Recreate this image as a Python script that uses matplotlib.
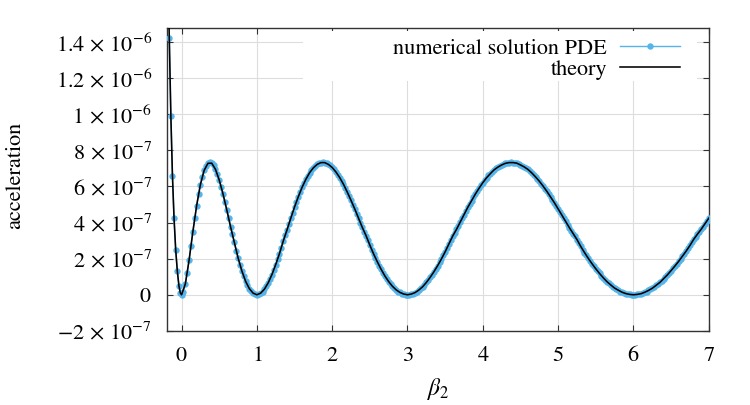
import numpy as np
import matplotlib
matplotlib.use("Agg")
import matplotlib.pyplot as plt
from matplotlib.patches import Rectangle

plt.rcParams["font.family"] = ["STIXGeneral", "Liberation Serif", "DejaVu Serif"]
plt.rcParams["mathtext.fontset"] = "stix"

# acceleration values are in units of 1e-7
# left branch (beta_2 < 0), read point by point
beta_neg = [-0.163, -0.142, -0.121, -0.100, -0.078, -0.056, -0.035, -0.016]
accel_neg = [14.2, 9.9, 6.6, 4.25, 2.5, 1.3, 0.5, 0.1]

# numerical solution, beta_2 = 0 ... 7 in steps of 0.025
num_step = 0.025
accel_num = [
    0, 0.17, 0.60, 1.20, 1.92, 2.71, 3.49, 4.23, 4.93, 5.56, 6.10, 6.55, 6.89, 7.14, 7.28, 7.33, 7.29, 7.16, 6.95, 6.68,
    6.36, 5.99, 5.59, 5.16, 4.71, 4.24, 3.78, 3.36, 2.92, 2.45, 2.05, 1.67, 1.33, 1.02, 0.75, 0.53, 0.34, 0.19, 0.09, 0.03,
    0, 0.03, 0.09, 0.18, 0.31, 0.47, 0.66, 0.89, 1.12, 1.39, 1.67, 1.97, 2.28, 2.61, 2.97, 3.30, 3.59, 3.91, 4.24, 4.55,
    4.86, 5.15, 5.43, 5.70, 5.95, 6.18, 6.39, 6.59, 6.76, 6.91, 7.03, 7.15, 7.22, 7.28, 7.32, 7.33, 7.32, 7.29, 7.22, 7.16,
    7.05, 6.94, 6.80, 6.66, 6.49, 6.31, 6.12, 5.91, 5.69, 5.47, 5.23, 4.99, 4.75, 4.49, 4.24, 3.98, 3.73, 3.50, 3.27, 3.02,
    2.75, 2.49, 2.26, 2.03, 1.82, 1.61, 1.41, 1.22, 1.04, 0.89, 0.73, 0.60, 0.47, 0.36, 0.27, 0.18, 0.13, 0.07, 0.04, 0.01,
    0, 0.01, 0.04, 0.07, 0.12, 0.18, 0.26, 0.35, 0.44, 0.56, 0.68, 0.82, 0.96, 1.10, 1.27, 1.44, 1.61, 1.80, 1.98, 2.18,
    2.38, 2.58, 2.81, 3.04, 3.25, 3.43, 3.62, 3.82, 4.03, 4.24, 4.44, 4.64, 4.84, 5.03, 5.21, 5.40, 5.57, 5.74, 5.90, 6.06,
    6.21, 6.35, 6.48, 6.61, 6.71, 6.82, 6.92, 7.00, 7.07, 7.15, 7.19, 7.24, 7.28, 7.31, 7.32, 7.33, 7.32, 7.31, 7.29, 7.24,
    7.19, 7.15, 7.08, 7.01, 6.94, 6.85, 6.75, 6.65, 6.53, 6.41, 6.29, 6.16, 6.02, 5.88, 5.73, 5.58, 5.42, 5.26, 5.10, 4.93,
    4.76, 4.59, 4.41, 4.24, 4.06, 3.89, 3.71, 3.55, 3.39, 3.23, 3.06, 2.87, 2.68, 2.50, 2.34, 2.18, 2.02, 1.87, 1.72, 1.58,
    1.44, 1.31, 1.18, 1.05, 0.94, 0.83, 0.72, 0.63, 0.54, 0.45, 0.37, 0.31, 0.25, 0.18, 0.14, 0.10, 0.065, 0.04, 0.02, 0.005,
    0, 0.005, 0.02, 0.04, 0.06, 0.10, 0.14, 0.18, 0.24, 0.30, 0.36, 0.43, 0.52, 0.60, 0.68, 0.78, 0.89, 0.99, 1.10, 1.22,
    1.34, 1.46, 1.59, 1.72, 1.85, 1.99, 2.13, 2.27, 2.42, 2.57, 2.73, 2.90, 3.07, 3.22, 3.36, 3.49, 3.63, 3.78, 3.93, 4.08, 4.24,
]

# theory curve
beta_th_neg = [-0.19, -0.163, -0.142, -0.121, -0.100, -0.078, -0.056, -0.035, -0.016]
accel_th_neg = [20.5, 14.2, 9.9, 6.6, 4.25, 2.5, 1.3, 0.5, 0.1]
th_step = 0.05
accel_theory = [
    0, 0.60, 1.92, 3.49, 4.93, 6.10, 6.89, 7.28, 7.29, 6.95, 6.36, 5.59, 4.71, 3.78, 2.92, 2.05, 1.33, 0.75, 0.34, 0.09,
    0, 0.09, 0.31, 0.66, 1.12, 1.67, 2.28, 2.97, 3.59, 4.24, 4.86, 5.43, 5.95, 6.39, 6.76, 7.03, 7.22, 7.32, 7.32, 7.22,
    7.05, 6.80, 6.49, 6.12, 5.69, 5.23, 4.75, 4.24, 3.73, 3.27, 2.75, 2.26, 1.82, 1.41, 1.04, 0.73, 0.47, 0.27, 0.13, 0.04,
    0, 0.04, 0.12, 0.26, 0.44, 0.68, 0.96, 1.27, 1.61, 1.98, 2.38, 2.81, 3.25, 3.62, 4.03, 4.44, 4.84, 5.21, 5.57, 5.90,
    6.21, 6.48, 6.71, 6.92, 7.07, 7.19, 7.28, 7.32, 7.32, 7.29, 7.19, 7.08, 6.94, 6.75, 6.53, 6.29, 6.02, 5.73, 5.42, 5.10,
    4.76, 4.41, 4.06, 3.71, 3.39, 3.06, 2.68, 2.34, 2.02, 1.72, 1.44, 1.18, 0.94, 0.72, 0.54, 0.37, 0.25, 0.14, 0.065, 0.02,
    0, 0.02, 0.06, 0.14, 0.24, 0.36, 0.52, 0.68, 0.89, 1.10, 1.34, 1.59, 1.85, 2.13, 2.42, 2.73, 3.07, 3.36, 3.63, 3.93, 4.24,
]

ytick_vals = [-2e-7, 0, 2e-7, 4e-7, 6e-7, 8e-7, 1e-6, 1.2e-6, 1.4e-6]
ytick_labels = [r"$-2\,\times\,10^{-7}$", r"$0$", r"$2\,\times\,10^{-7}$", r"$4\,\times\,10^{-7}$",
                r"$6\,\times\,10^{-7}$", r"$8\,\times\,10^{-7}$", r"$1\,\times\,10^{-6}$",
                r"$1.2\,\times\,10^{-6}$", r"$1.4\,\times\,10^{-6}$"]
xtick_vals = [0, 1, 2, 3, 4, 5, 6, 7]

beta_num = np.concatenate([beta_neg, np.arange(len(accel_num)) * num_step])
acc_num = np.concatenate([accel_neg, accel_num]) * 1e-7
beta_th = np.concatenate([beta_th_neg, np.arange(len(accel_theory)) * th_step])
acc_th = np.concatenate([accel_th_neg, accel_theory]) * 1e-7

sky = "#56b4e9"

fig = plt.figure(figsize=(7.5, 4.05), dpi=100)
ax = fig.add_axes([0.223, 0.183, 0.722, 0.749])

ax.plot(beta_num, acc_num, color=sky, lw=1.0, marker="o", ms=4.6, mew=0,
        label="numerical solution PDE", zorder=3)
ax.plot(beta_th, acc_th, color="black", lw=1.15, label="theory", zorder=4)

ax.set_xlim(-0.19, 7)
ax.set_ylim(-2e-7, 1.48e-6)
ax.set_xticks(xtick_vals)
ax.set_xticklabels([f"${v}$" for v in xtick_vals])
ax.set_yticks(ytick_vals)
ax.set_yticklabels(ytick_labels)

ax.grid(True, color="#dddddd", lw=0.8)
ax.set_axisbelow(True)
for sp in ax.spines.values():
    sp.set_color("#333333")
    sp.set_linewidth(1.0)
ax.tick_params(direction="in", length=4, width=0.8, color="#333333",
               top=True, right=True, labelsize=16, pad=11)

ax.set_xlabel(r"$\beta_2$", fontsize=17)
ax.set_ylabel("acceleration", fontsize=16)
ax.xaxis.set_label_coords(0.5, -0.15)
ax.yaxis.set_label_coords(-0.262, 0.514)

# white key box (wider than the text, as in the original)
ax.add_patch(Rectangle((0.251, 0.824), 0.728, 0.165, transform=ax.transAxes,
                       facecolor="white", edgecolor="none", zorder=2))

leg = ax.legend(loc="upper right", bbox_to_anchor=(0.968, 1.0), markerfirst=False,
                fontsize=16, frameon=False, handlelength=2.7,
                handletextpad=0.6, labelspacing=0.0, borderpad=0.3, borderaxespad=0.2)
for t in leg.get_texts():
    t.set_ha("right")

fig.savefig("out.png", dpi=100)
